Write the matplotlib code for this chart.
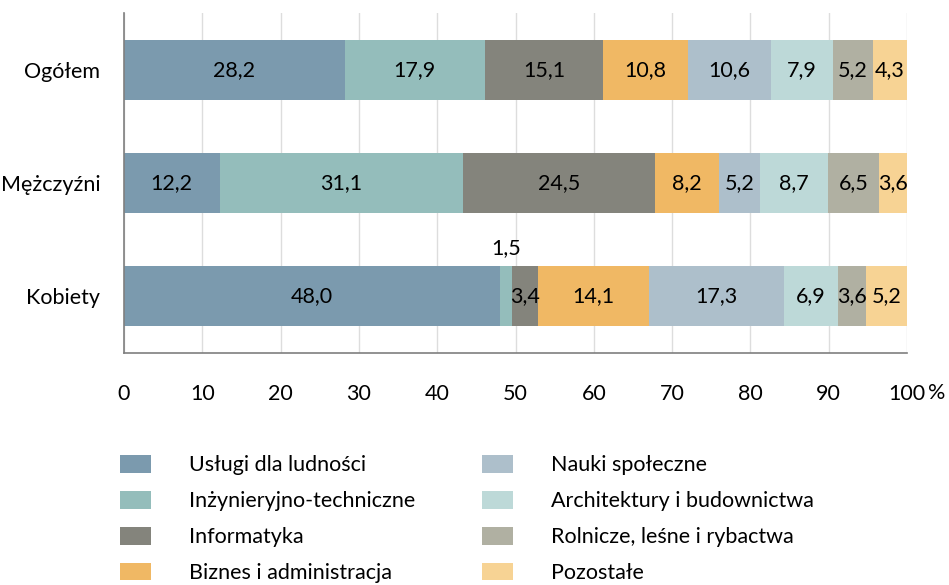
import matplotlib
matplotlib.use("Agg")
import matplotlib.pyplot as plt
from matplotlib.patches import Patch

plt.rcParams['font.family'] = ['Lato', 'DejaVu Sans']

groups = ["Ogółem", "Mężczyźni", "Kobiety"]
series = ["Usługi dla ludności", "Inżynieryjno-techniczne", "Informatyka",
          "Biznes i administracja", "Nauki społeczne", "Architektury i budownictwa",
          "Rolnicze, leśne i rybactwa", "Pozostałe"]
values = [
    [28.2, 12.2, 48.0],
    [17.9, 31.1, 1.5],
    [15.1, 24.5, 3.4],
    [10.8, 8.2, 14.1],
    [10.6, 5.2, 17.3],
    [7.9, 8.7, 6.9],
    [5.2, 6.5, 3.6],
    [4.3, 3.6, 5.2],
]
colors = ["#7B9AAE", "#94BDBB", "#84847C", "#F0B864",
          "#ADBFCB", "#BDD9D8", "#B0B0A2", "#F7D394"]
xticks = [0, 10, 20, 30, 40, 50, 60, 70, 80, 90, 100]

FS = 15.5
fig = plt.figure(figsize=(9.49, 5.85), dpi=100)
ax = fig.add_axes([124/949, 1-353/585, (907-124)/949, (353-13)/585])

ypos = list(range(len(groups)))
left = [0.0]*len(groups)
for s, vals, c in zip(series, values, colors):
    bars = ax.barh(ypos, vals, left=left, height=0.53, color=c, label=s, zorder=2)
    for i, (b, v) in enumerate(zip(bars, vals)):
        txt = f"{v:.1f}".replace(".", ",")
        cx = left[i] + v/2
        if v < 2.5:
            ax.text(cx, ypos[i] - 0.265 - 0.07, txt, ha='center', va='bottom', fontsize=FS, color='black')
        else:
            ax.text(cx, ypos[i], txt, ha='center', va='center', fontsize=FS, color='black')
    left = [l + v for l, v in zip(left, vals)]

ax.set_xlim(0, 100)
ax.set_ylim(2.5, -0.5)
ax.set_yticks(ypos)
ax.set_yticklabels(groups, fontsize=FS)
ax.set_xticks(xticks)
ax.set_xticklabels([str(t) for t in xticks], fontsize=FS)
ax.tick_params(length=0, pad=22, axis='x')
ax.tick_params(length=0, pad=17, axis='y')
ax.grid(axis='x', color='#DDDDDD', linewidth=1, zorder=0)
for sp in ['top', 'right']:
    ax.spines[sp].set_visible(False)
ax.spines['left'].set_color('#7F7F7F')
ax.spines['bottom'].set_color('#7F7F7F')
ax.spines['left'].set_linewidth(1.2)
ax.spines['bottom'].set_linewidth(1.2)

fig.text(937/949, 1-393/585, "%", fontsize=FS, ha='center', va='center')

handles = [Patch(facecolor=c, edgecolor='none') for c in colors]
kw = dict(loc='upper left', frameon=False, fontsize=FS, handlelength=1.45, handleheight=0.9,
          handletextpad=1.75, labelspacing=0.72, borderpad=0, borderaxespad=0)
leg1 = fig.legend(handles[:4], series[:4], bbox_to_anchor=(120/949, 1-455/585), **kw)
leg2 = fig.legend(handles[4:], series[4:], bbox_to_anchor=(482/949, 1-455/585), **kw)

fig.savefig("out.png", dpi=100)
